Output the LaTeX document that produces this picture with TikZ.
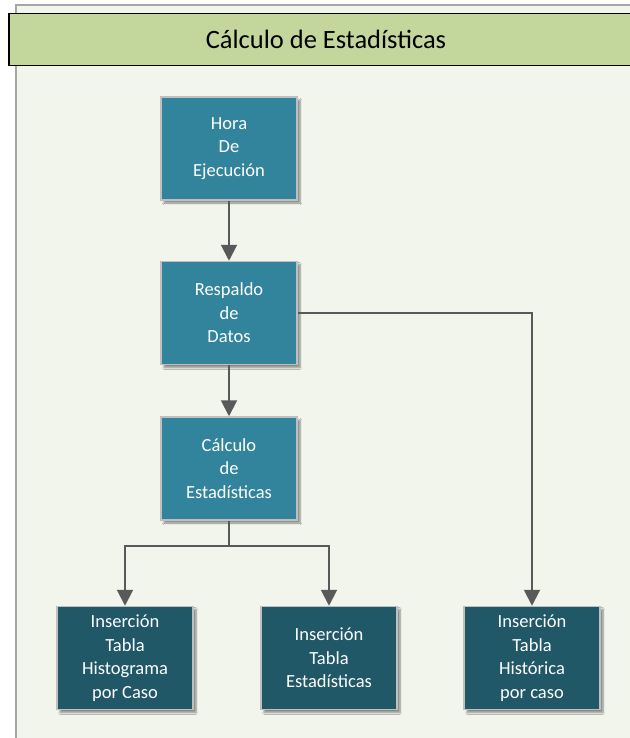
\documentclass[tikz,border=0pt]{standalone}
\usepackage{fontspec}
\setmainfont{Carlito}
\usetikzlibrary{arrows.meta,shadows.blur}
\definecolor{panelbg}{HTML}{F2F5EC}
\definecolor{framegray}{HTML}{A6A6A6}
\definecolor{titlegreen}{HTML}{C3D69B}
\definecolor{tealmid}{HTML}{31849B}
\definecolor{tealdark}{HTML}{215868}
\definecolor{boxedge}{HTML}{BFBFBF}
\definecolor{linkgray}{HTML}{595959}
\tikzset{
  procbox/.style={rectangle, draw=boxedge, line width=1.5pt, text=white,
    minimum width=136pt, minimum height=103pt, align=center,
    font=\fontsize{18.5}{23.5}\selectfont,
    blur shadow={shadow xshift=3pt, shadow yshift=-3pt, shadow blur steps=6, shadow opacity=45}},
  upperbox/.style={procbox, fill=tealmid},
  lowerbox/.style={procbox, fill=tealdark},
  link/.style={draw=linkgray, line width=2pt, -{Triangle[width=16pt,length=16pt]}}
}
\begin{document}
\begin{tikzpicture}[x=1pt,y=-1pt]
  \useasboundingbox (0,0) rectangle (629,738);
  % panel background and its visible frame edges
  \fill[panelbg] (16,5) rectangle (640,745);
  \draw[framegray, line width=1.2pt] (16,745) -- (16,5) -- (640,5);
  % title bar
  \node[draw=black, line width=1.5pt, fill=titlegreen, minimum width=640pt, minimum height=52pt,
        anchor=north west, inner sep=0pt] (titlebar) at (8,13) {};
  \node[font=\fontsize{26.5}{30}\selectfont] (title) at (326,39) {Cálculo de Estadísticas};
  % process boxes
  \node[upperbox] (hora) at (229,148.5) {Hora\\De\\Ejecución};
  \node[upperbox] (resp) at (229,313) {Respaldo\\de\\Datos};
  \node[upperbox] (calc) at (229,468.5) {Cálculo\\de\\Estadísticas};
  \node[lowerbox] (histo) at (125,658) {Inserción\\Tabla\\Histograma\\por Caso};
  \node[lowerbox] (estad) at (329,658) {Inserción\\Tabla\\Estadísticas};
  \node[lowerbox] (histor) at (532,658) {Inserción\\Tabla\\Histórica\\por caso};
  % connectors
  \draw[link] (hora) -- (resp);
  \draw[link] (resp) -- (calc);
  \coordinate (split) at (229,546);
  \draw[link] (calc.south) -- (split) -| (histo.north);
  \draw[link] (split) -| (estad.north);
  \draw[link] (resp.east) -| (histor.north);
\end{tikzpicture}
\end{document}
